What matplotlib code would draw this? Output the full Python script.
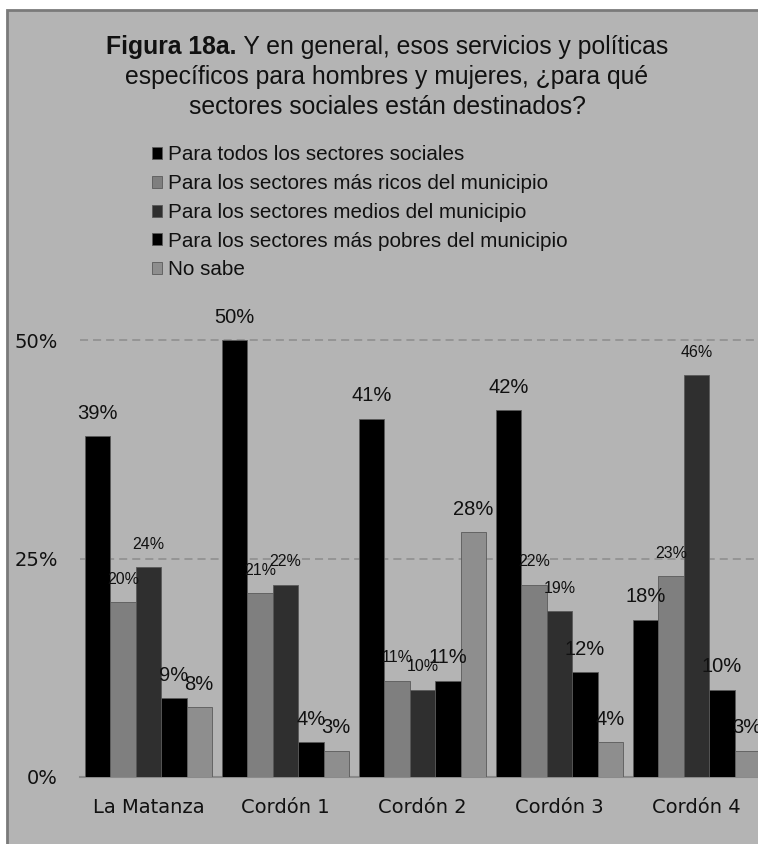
import matplotlib
matplotlib.use('Agg')
import matplotlib.pyplot as plt
import numpy as np
from matplotlib.patches import Rectangle

# ---------------- data ----------------
categories = ['La Matanza', 'Cordón 1', 'Cordón 2', 'Cordón 3', 'Cordón 4']
series_names = ['Para todos los sectores sociales',
                'Para los sectores más ricos del municipio',
                'Para los sectores medios del municipio',
                'Para los sectores más pobres del municipio',
                'No sabe']
todos = [39, 50, 41, 42, 18]
ricos = [20, 21, 11, 22, 23]
medios = [24, 22, 10, 19, 46]
pobres = [9, 4, 11, 12, 10]
no_sabe = [8, 3, 28, 4, 3]
ytick_values = [0, 25, 50]
ytick_labels = ['0%', '25%', '50%']

series = [todos, ricos, medios, pobres, no_sabe]
colors = ['#000000', '#7f7f7f', '#2f2f2f', '#000000', '#8e8e8e']
label_sizes = [14.5, 11.5, 11.5, 14.5, 14.5]
bg = '#b4b4b4'

plt.rcParams['lines.scale_dashes'] = False

W, H = 758, 844
fig = plt.figure(figsize=(W / 100, H / 100), dpi=100)
fig.patch.set_facecolor('white')
fig.patches.append(Rectangle((7 / W, -0.1), 1.2, (H - 10) / H + 0.1,
                             transform=fig.transFigure, facecolor=bg,
                             edgecolor='#7a7a7a', lw=2, zorder=-5))

ax = fig.add_axes([80 / W, 67 / H, 685 / W, 480.7 / H])
ax.set_facecolor('none')
x = np.arange(len(categories))
width = 0.185
lab_font = 'Liberation Sans'
for i, vals in enumerate(series):
    pos = x + (i - 2) * width
    ax.bar(pos, vals, width, color=colors[i], edgecolor='#5a5a5a', lw=0.6,
           label=series_names[i], zorder=3)
    for px, v in zip(pos, vals):
        ax.annotate(f'{v}%', (px, v), xytext=(0, 16.5), textcoords='offset points',
                    ha='center', va='center', fontsize=label_sizes[i],
                    family=lab_font, color='#111111', zorder=4)

for yv in ytick_values[1:]:
    ax.axhline(yv, color='#8c8c8c', lw=1.1, dashes=(5.8, 3.6), zorder=1)

ax.set_xlim(-0.5, 4.5)
ax.set_ylim(0, 55)
for s in ['top', 'left', 'right']:
    ax.spines[s].set_visible(False)
ax.spines['bottom'].set_color('#8a8a8a')
ax.spines['bottom'].set_linewidth(1.5)
ax.set_xticks(x, categories, fontsize=14, family='DejaVu Sans', color='#111111')
ax.set_yticks(ytick_values, ytick_labels, fontsize=14, family='DejaVu Sans', color='#111111')
ax.tick_params(axis='x', length=0, pad=15)
ax.tick_params(axis='y', length=0, pad=16)

# title
tfs = 17.8
tb = fig.text(0, 0, 'Figura 18a.', fontsize=tfs, weight='bold', family=lab_font,
              color='#111111', ha='left', va='center')
tr = fig.text(0, 0, ' Y en general, esos servicios y políticas', fontsize=tfs,
              family=lab_font, color='#111111', ha='left', va='center')
fig.text(387 / W, 1 - 77 / H, 'específicos para hombres y mujeres, ¿para qué',
         fontsize=tfs, family=lab_font, color='#111111', ha='center', va='center')
fig.text(387 / W, 1 - 107 / H, 'sectores sociales están destinados?',
         fontsize=tfs, family=lab_font, color='#111111', ha='center', va='center')
fig.canvas.draw()
r = fig.canvas.get_renderer()
wb = tb.get_window_extent(r).width
wr = tr.get_window_extent(r).width
x0 = 387 - (wb + wr) / 2
tb.set_position((x0 / W, 1 - 47 / H))
tr.set_position(((x0 + wb) / W, 1 - 47 / H))

handles, labels = ax.get_legend_handles_labels()
fig.legend(handles, labels, loc='upper left', bbox_to_anchor=(152 / W, 1 - 145.5 / H),
           frameon=False, prop={'family': lab_font, 'size': 14.9},
           handlelength=0.5, handleheight=0.5, handletextpad=0.25,
           labelspacing=0.47, borderaxespad=0, borderpad=0, labelcolor='#111111')

fig.savefig('out.png', dpi=100, facecolor='white')
